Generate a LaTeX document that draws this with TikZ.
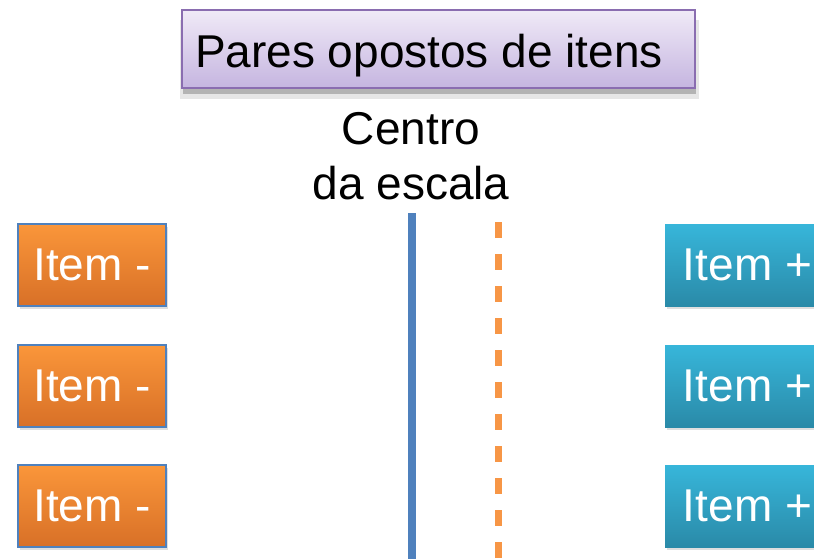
\documentclass[tikz,border=0pt]{standalone}
\usepackage{fontspec}
\setmainfont{Liberation Sans}
\usetikzlibrary{shadows}
\definecolor{negtop}{RGB}{250,150,58}
\definecolor{negbottom}{RGB}{216,112,39}
\definecolor{postop}{RGB}{55,182,218}
\definecolor{posbottom}{RGB}{42,138,168}
\definecolor{itemborder}{RGB}{79,129,189}
\definecolor{titletop}{RGB}{240,234,247}
\definecolor{titlebottom}{RGB}{197,181,224}
\definecolor{titleborder}{RGB}{138,109,176}
\definecolor{centreblue}{RGB}{79,129,189}
\definecolor{dashorange}{RGB}{247,150,70}

\begin{document}
\begin{tikzpicture}[x=1pt, y=-1pt,
  bigtext/.style={font=\fontsize{46}{55}\selectfont},
  itemneg/.style={bigtext, draw=itemborder, line width=1.2pt, top color=negtop,
    bottom color=negbottom, text=white, minimum width=148pt, minimum height=82pt,
    inner sep=0pt, drop shadow={opacity=0.25, shadow xshift=2pt, shadow yshift=-3pt}},
  itempos/.style={bigtext, top color=postop, bottom color=posbottom, text=white,
    minimum width=165pt, minimum height=82pt, inner sep=0pt,
    drop shadow={opacity=0.25, shadow xshift=2pt, shadow yshift=-3pt}}]

  \useasboundingbox (0,0) rectangle (814,558);
  \clip (0,0) rectangle (814,558);

  % ---- title ----
  \node[bigtext, draw=titleborder, line width=1.2pt, top color=titletop,
    bottom color=titlebottom, text width=487pt, align=flush left, inner xsep=13pt, inner ysep=0pt,
    text height=37pt, text depth=0pt, minimum height=78pt,
    drop shadow={opacity=0.2, shadow xshift=1pt, shadow yshift=-10pt, shadow scale=1.012},
    drop shadow={opacity=0.5, shadow xshift=1pt, shadow yshift=-6pt, shadow scale=1.0}]
    (title) at (438.5,49) {Pares opostos de itens};

  % ---- centre label ----
  \node[bigtext, align=center, inner sep=0pt] (centre) at (411,156) {Centro\\da escala};

  % ---- axes ----
  \coordinate (bluetop) at (412,213);
  \coordinate (bluebottom) at (412,560);
  \coordinate (dashtop) at (498,222);
  \coordinate (dashbottom) at (498,560);
  \draw[centreblue, line width=8pt] (bluetop) -- (bluebottom);
  \draw[dashorange, line width=7pt, dash pattern=on 16pt off 16pt] (dashtop) -- (dashbottom);

  % ---- items ----
  \foreach \i/\y in {1/265, 2/386, 3/506} {
    \node[itemneg] (neg\i) at (92,\y) {Item -};
    \node[itempos] (pos\i) at (747.5,\y) {Item +};
  }

\end{tikzpicture}
\end{document}
